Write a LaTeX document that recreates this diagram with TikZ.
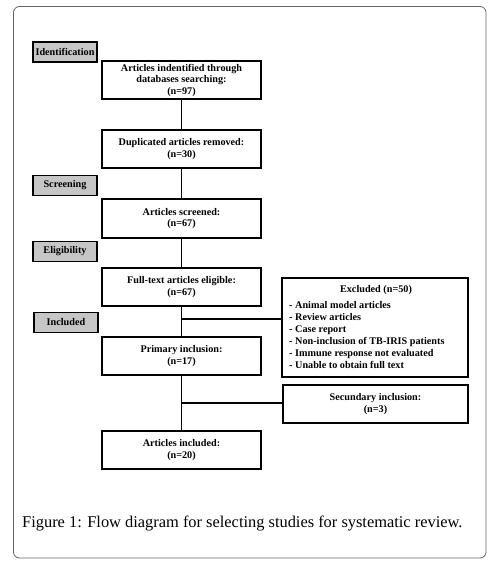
\documentclass[tikz,border=0pt]{standalone}
\usepackage{fontspec}
\setmainfont{Liberation Serif}
\begin{document}
\begin{tikzpicture}[x=1pt,y=1pt,
  mainbox/.style={draw=black, line width=1.3pt, minimum width=159pt, inner sep=0pt, align=center, font=\fontsize{10.2}{11.5}\selectfont\bfseries},
  stagebox/.style={draw=black, line width=1.4pt, fill=gray!45, minimum width=64pt, minimum height=20pt, inner sep=0pt, font=\fontsize{10.2}{11}\selectfont\bfseries},
  conn/.style={line width=1.3pt}
]
\useasboundingbox (0,0) rectangle (492,-564);
\draw[gray!80!black, line width=0.8pt, rounded corners=6pt] (13.5,-6.5) rectangle (486,-558);

% stage labels
\node[stagebox] (ident) at (65,-52) {Identification};
\node[stagebox] (screen) at (65,-185.5) {Screening};
\node[stagebox] (elig) at (65,-251.5) {Eligibility};
\node[stagebox] (incl) at (66,-322.5) {Included};

% main boxes
\node[mainbox, minimum height=38pt] (b1) at (181.5,-80) {Articles indentified through\\databases searching:\\(n=97)};
\node[mainbox, minimum height=38pt] (b2) at (181.5,-149) {Duplicated articles removed:\\(n=30)};
\node[mainbox, minimum height=39pt] (b3) at (181.5,-218.5) {Articles screened:\\(n=67)};
\node[mainbox, minimum height=38pt] (b4) at (181.5,-287) {Full-text articles eligible:\\(n=67)};
\node[mainbox, minimum height=38pt] (b5) at (181.5,-356) {Primary inclusion:\\(n=17)};
\node[mainbox, minimum height=38pt] (b6) at (181.5,-450) {Articles included:\\(n=20)};

% side boxes
\node[draw=black, line width=1.3pt, minimum width=186pt, minimum height=99pt, inner sep=0pt] (excl) at (375,-327.5) {};
\node[font=\fontsize{10.2}{11}\selectfont\bfseries] (exclt) at (376,-290) {Excluded (n=50)};
\node[anchor=north west, inner sep=0pt, align=left, font=\fontsize{10.2}{12}\selectfont\bfseries] (exclist) at (289,-301) {- Animal model articles\\- Review articles\\- Case report\\- Non-inclusion of TB-IRIS patients\\- Immune response not evaluated\\- Unable to obtain full text};
\node[mainbox, minimum width=185pt, minimum height=38pt] (sec) at (375.5,-404) {Secundary inclusion:\\(n=3)};

% connectors
\draw[conn] (b1.south) -- (b2.north);
\draw[conn] (b2.south) -- (b3.north);
\draw[conn] (b3.south) -- (b4.north);
\draw[conn] (b4.south) -- (b5.north);
\draw[conn] (b5.south) -- (b6.north);
\coordinate (j1) at (181.5,-319);
\coordinate (j2) at (181.5,-403);
\draw[conn] (j1) -- (j1 -| excl.west);
\draw[conn] (j2) -- (j2 -| sec.west);

% caption
\node[anchor=base west, inner sep=0pt, font=\fontsize{16.4}{19}\selectfont] (cap) at (22,-527) {Figure 1: Flow diagram for selecting studies for systematic review.};
\end{tikzpicture}
\end{document}
